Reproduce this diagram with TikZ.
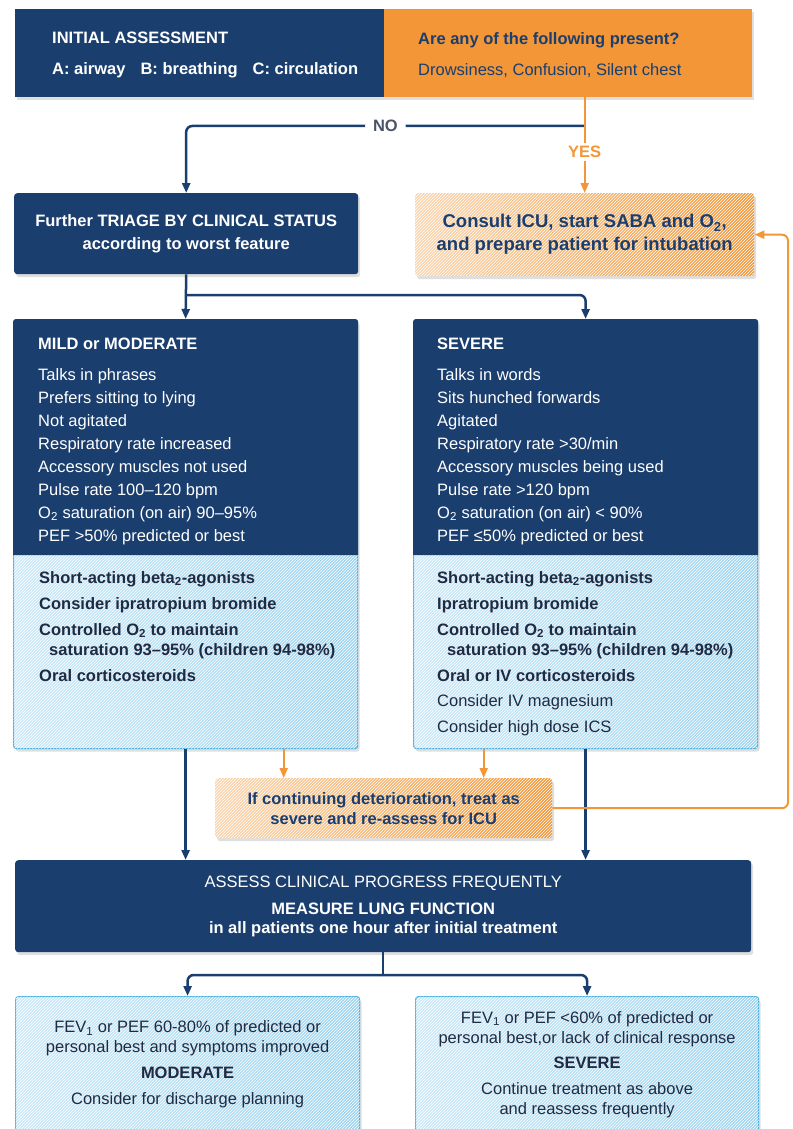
\documentclass[tikz,border=0pt]{standalone}
\usepackage{fontspec}
\setmainfont{Liberation Sans}
\usetikzlibrary{arrows.meta,patterns,shadows}

\definecolor{navy}{RGB}{26,62,110}
\definecolor{amber}{RGB}{243,150,55}
\definecolor{peach}{RGB}{250,214,176}
\definecolor{sky}{RGB}{204,234,249}
\definecolor{skydeep}{RGB}{158,212,240}
\definecolor{cyanedge}{RGB}{72,178,224}
\definecolor{ink}{RGB}{32,42,66}

\begin{document}
\begin{tikzpicture}[x=1pt, y=-1pt,
	every node/.style={inner sep=0pt, font=\fontsize{16.5}{23}\selectfont},
	panel/.style={anchor=north west, rounded corners=3pt, drop shadow={shadow xshift=2pt, shadow yshift=-3pt, opacity=0.25}},
	navybox/.style={panel, fill=navy, text=white, align=center},
	amberbox/.style={panel, left color=peach, right color=amber, text=navy, align=center,
		postaction={pattern=north east lines, pattern color=white, fill opacity=0.35}},
	skybox/.style={panel, left color=sky, right color=skydeep, draw=cyanedge, line width=1.2pt, text=ink, align=center,
		postaction={pattern=north east lines, pattern color=white, fill opacity=0.35}},
	flow/.style={draw=navy, line width=2.5pt, rounded corners=6pt, -{Triangle[length=10pt,width=8pt]}},
	alertflow/.style={draw=amber, line width=2pt, rounded corners=6pt, -{Triangle[length=10pt,width=8pt]}}]
	\useasboundingbox (0,0) rectangle (792,1129);
	\clip (0,0) rectangle (792,1129);

	\node[navybox, sharp corners, minimum width=369, minimum height=88] (init) at (15,9) {};
	\node[panel, sharp corners, fill=amber, minimum width=368, minimum height=88] (alert) at (384,9) {};
	\node[anchor=base west, text=white, font=\fontsize{16.5}{23}\bfseries] (inittitle) at (52,44) {INITIAL ASSESSMENT};
	\node[anchor=base west, text=white, font=\fontsize{16.5}{23}\bfseries] (abc) at (52,75) {A: airway\hspace{15pt}B: breathing\hspace{15pt}C: circulation};
	\node[anchor=base west, text=navy, font=\fontsize{16.5}{23}\bfseries] (alerttitle) at (418,45) {Are any of the following present?};
	\node[anchor=base west, text=navy] (signs) at (418,76) {Drowsiness, Confusion, Silent chest};

	\node[navybox, minimum width=344, minimum height=81, font=\fontsize{16.5}{23}\bfseries] (triage) at (14,193)
		{Further TRIAGE BY CLINICAL STATUS\\according to worst feature};
	\node[amberbox, minimum width=339, minimum height=83, font=\fontsize{18.5}{23}\bfseries] (icu) at (415,193)
		{Consult ICU, start SABA and O\textsubscript{2},\\and prepare patient for intubation};

	\node[skybox, minimum width=344, minimum height=429] (mild) at (13,319) {};
	\node[skybox, minimum width=344, minimum height=429] (severe) at (413,319) {};
	\fill[navy] ([yshift=-236pt]mild.north west) [rounded corners=3pt] -- (mild.north west) -- (mild.north east) [sharp corners] -- ([yshift=-236pt]mild.north east) -- cycle;
	\fill[navy] ([yshift=-236pt]severe.north west) [rounded corners=3pt] -- (severe.north west) -- (severe.north east) [sharp corners] -- ([yshift=-236pt]severe.north east) -- cycle;

	\node[anchor=base west, text=white, font=\fontsize{16.5}{23}\bfseries] (mildtitle) at (38,349) {MILD or MODERATE};
	\node[anchor=base west, text=white, font=\fontsize{16.5}{23}\bfseries] (severetitle) at (437,349) {SEVERE};
	\foreach \txt [count=\i from 0] in {Talks in phrases, Prefers sitting to lying, Not agitated, Respiratory rate increased,
		Accessory muscles not used, Pulse rate 100--120 bpm, O\textsubscript{2} saturation (on air) 90--95\%, PEF >50\% predicted or best}
		\node[anchor=base west, text=white] (mildsign\i) at (38, 380+23*\i) {\txt};
	\foreach \txt [count=\i from 0] in {Talks in words, Sits hunched forwards, Agitated, Respiratory rate >30/min,
		Accessory muscles being used, Pulse rate >120 bpm, O\textsubscript{2} saturation (on air) < 90\%, PEF ≤50\% predicted or best}
		\node[anchor=base west, text=white] (severesign\i) at (437, 380+23*\i) {\txt};
	\foreach \dx/\y/\txt [count=\i] in {0/583/{\bfseries Short-acting beta\textsubscript{2}-agonists},
		0/609/{\bfseries Consider ipratropium bromide}, 0/635/{\bfseries Controlled O\textsubscript{2} to maintain},
		10/655/{\bfseries saturation 93--95\% (children 94-98\%)}, 0/681/{\bfseries Oral corticosteroids}}
		\node[anchor=base west, text=ink] (mildtreat\i) at (39+\dx, \y) {\txt};
	\foreach \dx/\y/\txt [count=\i] in {0/583/{\bfseries Short-acting beta\textsubscript{2}-agonists},
		0/609/{\bfseries Ipratropium bromide}, 0/635/{\bfseries Controlled O\textsubscript{2} to maintain},
		10/655/{\bfseries saturation 93--95\% (children 94-98\%)}, 0/681/{\bfseries Oral or IV corticosteroids},
		0/706/{Consider IV magnesium}, 0/732/{Consider high dose ICS}}
		\node[anchor=base west, text=ink] (severetreat\i) at (437+\dx, \y) {\txt};

	\node[amberbox, minimum width=337, minimum height=60, font=\fontsize{16.5}{20}\bfseries] (worse) at (215,778)
		{If continuing deterioration, treat as\\severe and re-assess for ICU};
	\node[navybox, minimum width=736, minimum height=92, font=\fontsize{16.5}{19}\selectfont] (assess) at (15,860)
		{ASSESS CLINICAL PROGRESS FREQUENTLY\\[8pt]\textbf{MEASURE LUNG FUNCTION}\\\textbf{in all patients one hour after initial treatment}};
	\node[skybox, minimum width=344, minimum height=136, font=\fontsize{16.5}{20}\selectfont] (discharge) at (15,996)
		{FEV\textsubscript{1} or PEF 60-80\% of predicted or\\personal best and symptoms improved\\[6pt]\textbf{MODERATE}\\[6pt]Consider for discharge planning};
	\node[skybox, minimum width=343, minimum height=136, font=\fontsize{16.5}{20}\selectfont] (ongoing) at (415,996)
		{FEV\textsubscript{1} or PEF <60\% of predicted or\\personal best,or lack of clinical response\\[5pt]\textbf{SEVERE}\\[6pt]Continue treatment as above\\and reassess frequently};

	\coordinate (fork) at (icu.north |- 0,126);
	\coordinate (branch) at (triage.south |- 0,295);
	\coordinate (split) at (assess.south |- 0,975);
	\coordinate (loop) at (788,0);
	\node[text=amber, font=\fontsize{16.5}{23}\bfseries] (yes) at (fork |- 0,152) {YES};

	\draw[flow] (fork) -- node[fill=white, inner xsep=8pt, font=\fontsize{16.5}{23}\bfseries, text=ink!80] {NO} (fork -| triage) -- (triage.north);
	\draw[draw=amber, line width=2pt] (alert.south -| fork) -- ([yshift=3pt]yes.north);
	\draw[alertflow] ([yshift=-3pt]yes.south) -- (icu.north);
	\draw[flow] (triage.south) -- (mild.north);
	\draw[flow] (branch) -| (severe.north);
	\draw[flow] (mild.south) -- (mild.south |- assess.north);
	\draw[flow] (severe.south) -- (severe.south |- assess.north);
	\draw[alertflow] ([xshift=-100pt]worse.north |- mild.south) -- ([xshift=-100pt]worse.north);
	\draw[alertflow] ([xshift=100pt]worse.north |- mild.south) -- ([xshift=100pt]worse.north);
	\draw[alertflow] (worse.east) -| (icu.east -| loop) -- (icu.east);
	\draw[draw=navy, line width=2.5pt] (assess.south) -- (split);
	\draw[flow] (split) -| (discharge.north);
	\draw[flow] (split) -| (ongoing.north);
\end{tikzpicture}
\end{document}
